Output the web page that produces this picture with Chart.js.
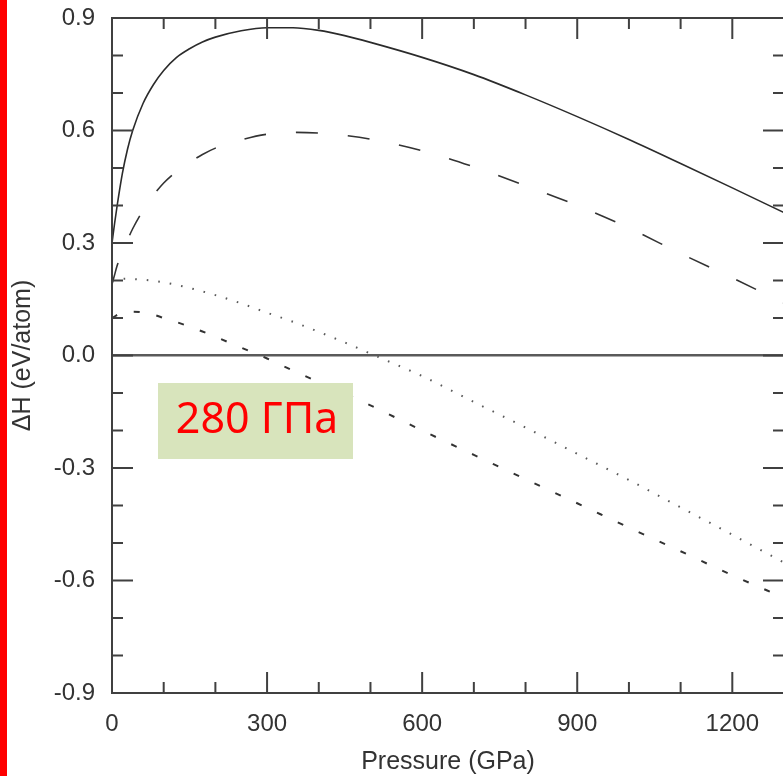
<!DOCTYPE html>
<html>
<head>
<meta charset="utf-8">
<script src="https://cdn.jsdelivr.net/npm/chart.js@4/dist/chart.umd.min.js"></script>
<style>
  html, body { margin: 0; padding: 0; background: #ffffff; overflow: hidden; }
  #wrap { position: relative; width: 790px; height: 776px; }
</style>
</head>
<body>
<div id="wrap"><canvas id="c"></canvas></div>
<script>
// ---- data ----
const pressure = [0, 5, 10, 20, 30, 40, 60, 80, 100, 125, 150, 175, 200, 250, 300, 350, 400, 450, 500, 600, 700, 800, 900, 1000, 1100, 1200, 1300];
const solidSeries     = [0.30, 0.352, 0.40, 0.485, 0.55, 0.60, 0.672, 0.722, 0.760, 0.795, 0.818, 0.836, 0.849, 0.866, 0.874, 0.874, 0.867, 0.853, 0.835, 0.795, 0.749, 0.695, 0.637, 0.576, 0.512, 0.447, 0.381];
const longDashSeries  = [0.19, 0.215, 0.24, 0.275, 0.308, 0.338, 0.387, 0.427, 0.460, 0.491, 0.515, 0.536, 0.553, 0.575, 0.590, 0.595, 0.593, 0.587, 0.577, 0.546, 0.503, 0.453, 0.400, 0.340, 0.272, 0.207, 0.140];
const dottedSeries    = [0.205, 0.205, 0.205, 0.205, 0.205, 0.204, 0.202, 0.199, 0.195, 0.188, 0.180, 0.171, 0.161, 0.139, 0.114, 0.090, 0.063, 0.035, 0.005, -0.055, -0.124, -0.192, -0.262, -0.332, -0.405, -0.478, -0.552];
const shortDashSeries = [0.100, 0.104, 0.108, 0.113, 0.116, 0.117, 0.115, 0.109, 0.100, 0.089, 0.077, 0.064, 0.050, 0.021, -0.008, -0.040, -0.071, -0.101, -0.133, -0.200, -0.265, -0.330, -0.394, -0.459, -0.522, -0.586, -0.646];

const xTickValues = [0, 300, 600, 900, 1200];
const xTickLabels = ['0', '300', '600', '900', '1200'];
const yTickValues = [-0.9, -0.6, -0.3, 0.0, 0.3, 0.6, 0.9];
const yTickLabels = ['-0.9', '-0.6', '-0.3', '0.0', '0.3', '0.6', '0.9'];
const xMinorValues = [0, 100, 200, 300, 400, 500, 600, 700, 800, 900, 1000, 1100, 1200, 1300];
const yMinorValues = [-0.9, -0.8, -0.7, -0.6, -0.5, -0.4, -0.3, -0.2, -0.1, 0.0, 0.1, 0.2, 0.3, 0.4, 0.5, 0.6, 0.7, 0.8, 0.9];
const xTitle = 'Pressure (GPa)';
const yTitle = 'ΔH (eV/atom)';
const noteText = '280 ГПа';

function pts(ys) { return pressure.map((p, i) => ({ x: p, y: ys[i] })); }

const frameColor = '#404040';
const fontFamily = '"Liberation Sans", Arial, sans-serif';

const decorPlugin = {
  id: 'decor',
  beforeDraw(chart) {
    const ctx = chart.ctx;
    ctx.save();
    ctx.fillStyle = '#ff0000';
    ctx.fillRect(0, 0, 7, chart.height);
    ctx.restore();
  },
  afterDraw(chart) {
    const ctx = chart.ctx;
    const a = chart.chartArea;
    const xs = chart.scales.x, ys = chart.scales.y;
    ctx.save();
    ctx.strokeStyle = frameColor;
    ctx.lineWidth = 2;
    ctx.lineCap = 'butt';
    ctx.strokeRect(a.left, a.top, a.right - a.left, a.bottom - a.top);
    xMinorValues.forEach(v => {
      const px = xs.getPixelForValue(v);
      const len = (xTickValues.indexOf(v) >= 0) ? 21 : 11;
      ctx.beginPath();
      ctx.moveTo(px, a.bottom); ctx.lineTo(px, a.bottom - len);
      ctx.moveTo(px, a.top); ctx.lineTo(px, a.top + len);
      ctx.stroke();
    });
    yMinorValues.forEach(v => {
      const py = ys.getPixelForValue(v);
      const major = yTickValues.some(t => Math.abs(t - v) < 1e-9);
      const len = major ? 21 : 11;
      ctx.beginPath();
      ctx.moveTo(a.left, py); ctx.lineTo(a.left + len, py);
      ctx.moveTo(a.right, py); ctx.lineTo(a.right - len, py);
      ctx.stroke();
    });
    // annotation box
    ctx.fillStyle = '#d8e4bc';
    ctx.fillRect(158, 383, 195, 76);
    ctx.fillStyle = '#ff0000';
    ctx.font = '43px "Noto Sans", "Open Sans", sans-serif';
    ctx.textAlign = 'center';
    ctx.textBaseline = 'middle';
    ctx.fillText(noteText, 257, 421);
    ctx.restore();
  }
};

new Chart(document.getElementById('c'), {
  type: 'line',
  data: {
    datasets: [
      { data: pts(solidSeries), borderColor: '#2b2b2b', borderWidth: 1.6 },
      { data: pts(longDashSeries), borderColor: '#333333', borderWidth: 1.6, borderDash: [22, 30] },
      { data: pts(dottedSeries), borderColor: '#5a5a5a', borderWidth: 2, borderDash: [1.6, 10] },
      { data: pts(shortDashSeries), borderColor: '#333333', borderWidth: 2, borderDash: [6, 17] }
    ]
  },
  options: {
    responsive: true,
    maintainAspectRatio: false,
    animation: false,
    devicePixelRatio: 1,
    layout: { padding: { left: 0, right: 6, top: 18, bottom: 0 } },
    elements: {
      point: { radius: 0 },
      line: { cubicInterpolationMode: 'monotone', fill: false, borderCapStyle: 'butt' }
    },
    plugins: { legend: { display: false }, tooltip: { enabled: false } },
    scales: {
      x: {
        type: 'linear',
        min: 0, max: 1300,
        afterFit(s) { s.height = 83; s.paddingLeft = 0; s.paddingRight = 0; },
        afterBuildTicks(s) { s.ticks = xTickValues.map(v => ({ value: v })); },
        grid: { display: false, drawTicks: false },
        border: { display: false },
        ticks: {
          padding: 17,
          color: '#333333',
          font: { family: fontFamily, size: 24 },
          maxRotation: 0,
          callback: (v) => { const i = xTickValues.indexOf(v); return i >= 0 ? xTickLabels[i] : ''; }
        },
        title: {
          display: true, text: xTitle, color: '#333333',
          font: { family: fontFamily, size: 25 },
          padding: { top: 0, bottom: -1 }
        }
      },
      y: {
        type: 'linear',
        min: -0.9, max: 0.9,
        afterFit(s) { s.width = 112; s.paddingTop = 0; s.paddingBottom = 0; },
        afterBuildTicks(s) { s.ticks = yTickValues.map(v => ({ value: v })); },
        grid: {
          drawTicks: false,
          lineWidth: 2.5,
          color: (c) => (c.tick && Math.abs(c.tick.value) < 1e-9) ? '#5a5a5a' : 'rgba(0,0,0,0)'
        },
        border: { display: false },
        ticks: {
          padding: 17,
          color: '#333333',
          font: { family: fontFamily, size: 24 },
          callback: (v) => { const i = yTickValues.findIndex(t => Math.abs(t - v) < 1e-9); return i >= 0 ? yTickLabels[i] : ''; }
        },
        title: {
          display: true, text: yTitle, color: '#333333',
          font: { family: fontFamily, size: 25 },
          padding: { top: 8, bottom: 0 }
        }
      }
    }
  },
  plugins: [decorPlugin]
});
</script>
</body>
</html>
